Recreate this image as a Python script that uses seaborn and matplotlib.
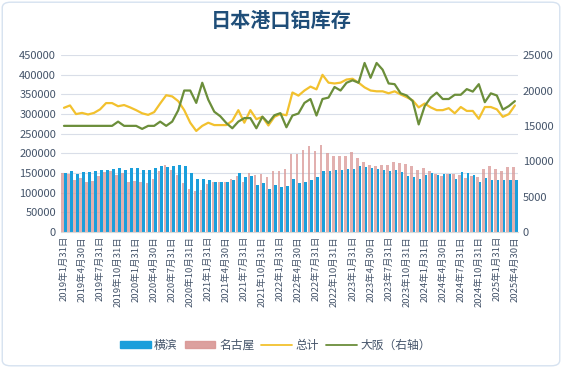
import pandas as pd
import matplotlib
matplotlib.use("Agg")
import matplotlib.pyplot as plt
import seaborn as sns
from matplotlib.lines import Line2D
from matplotlib.patches import Patch, FancyBboxPatch

# month-end dates, Jan 2019 .. Apr 2025
dates = pd.date_range("2019-01-31", "2025-04-30", freq="ME")
date_labels = [f"{d.year}年{d.month}月{d.day}日" for d in dates]

# 横滨 (left axis)
yokohama = [150, 156, 148, 152, 153, 156, 158, 158, 160, 163, 157, 162, 162, 158, 157, 162,
            167, 164, 169, 170, 169, 150, 135,
            134, 131, 127, 126, 127, 131, 151, 139, 141, 120, 124, 110, 120, 114, 117,
            135, 124, 128, 131, 139, 156, 156, 158, 158, 161, 161, 169, 165, 163, 161, 158,
            156, 158, 152,
            143, 139, 135, 146, 151, 146, 148, 148, 135, 153, 150, 146, 127, 138, 133, 131,
            133, 133, 133]
# 名古屋 (left axis)
nagoya = [150, 148, 133, 137, 127, 130, 141, 152, 154, 145, 150, 126, 130, 126, 124, 135,
          154, 170, 157, 144, 124, 110, 103,
          107, 122, 127, 127, 127, 135, 141, 128, 150, 146, 148, 139, 156, 156, 160,
          199, 199, 209, 218, 206, 220, 201, 194, 194, 194, 204, 189, 178, 170, 167, 170,
          170, 177, 175,
          173, 169, 158, 163, 156, 148, 143, 148, 148, 146, 138, 142, 140, 161, 169, 161,
          156, 166, 166]
# 总计 (left axis)
total = [316, 322, 300, 303, 299, 303, 312, 328, 328, 320, 323, 317, 310, 302, 298, 305,
         327, 348, 345, 333, 310, 278, 257, 270, 278, 272, 272, 272, 283, 310, 278, 310,
         287, 293, 271, 293, 300, 297,
         355, 347, 360, 370, 363, 400, 380, 378, 380, 388, 390, 380, 368, 360, 358, 358,
         353, 358, 350, 343, 335, 317, 327, 317, 310, 310, 315, 302, 318, 308, 308, 288,
         318, 318, 312, 293, 300, 322]
# 大阪 (right axis)
osaka = [15000, 15000, 15000, 15000, 15000, 15000, 15000, 15000, 15000, 15600, 15000, 15000,
         15000, 14570, 15000, 15000, 15600, 15000, 15600, 17200, 20000, 20000, 18250, 21100,
         18700, 17000, 16360, 15400, 14660, 15600, 16100, 16100, 14660, 16300, 15400, 16500,
         16800, 14800,
         16460, 16750, 18250, 18800, 16460, 18800, 19000, 20500, 20000, 21100, 21450, 21100,
         23900, 21800, 23900, 22950, 21000, 20900, 19600, 19300, 18500, 15200, 17800, 19000,
         19700, 18800, 18800, 19400, 19400, 20200, 19850, 20900, 18350, 19600, 19300, 17300,
         17800, 18500]

c_blue = "#1A9FDB"
c_pink = "#D99694"
c_yellow = "#F2C12E"
c_green = "#6B8E3A"
c_text = "#44546A"

bars = pd.DataFrame({
    "date": date_labels * 2,
    "series": ["名古屋"] * len(dates) + ["横滨"] * len(dates),
    "value": [v * 1000 for v in nagoya] + [v * 1000 for v in yokohama],
})
lines = pd.DataFrame({"date": date_labels, "total": [v * 1000 for v in total], "osaka": osaka})

sns.set_style("white")
plt.rcParams["font.family"] = ["Noto Sans CJK SC", "DejaVu Sans"]

fig = plt.figure(figsize=(5.62, 3.68), dpi=100)
ax = fig.add_axes([0.1085, 0.37, 0.813, 0.48])
ax2 = ax.twinx()

sns.barplot(data=bars, x="date", y="value", hue="series", hue_order=["名古屋", "横滨"],
            palette={"名古屋": c_pink, "横滨": c_blue}, width=0.88, saturation=1,
            linewidth=0, legend=False, ax=ax, zorder=2)
for p in ax.patches:
    if p.get_facecolor()[0] > 0.7:
        p.set_alpha(0.75)

sns.lineplot(data=lines, x="date", y="total", color=c_yellow, lw=1.6, ax=ax, zorder=3)
sns.lineplot(data=lines, x="date", y="osaka", color=c_green, lw=1.6, ax=ax2, zorder=3)

ax.set_ylim(0, 450000)
ax.set_yticks(range(0, 450001, 50000))
ax2.set_ylim(0, 25000)
ax2.set_yticks(range(0, 25001, 5000))
ax.set_xlim(-0.5, len(dates) - 0.5)
ax.grid(axis="y", color="#D9DEE8", lw=0.8, zorder=0)
ax.set_axisbelow(True)

ax.set_xticks(range(0, len(dates), 3))
ax.set_xticklabels(date_labels[::3], rotation=90, fontsize=6.8, color=c_text)
ax.tick_params(axis="x", length=0, pad=3)
ax.tick_params(axis="y", length=0, labelsize=8, labelcolor=c_text)
ax2.tick_params(axis="y", length=0, labelsize=8, labelcolor=c_text)
for a in (ax, ax2):
    a.set_xlabel("")
    a.set_ylabel("")
    for s in a.spines.values():
        s.set_visible(False)
ax.spines["bottom"].set_visible(True)
ax.spines["bottom"].set_color("#D9D9D9")

fig.text(0.5, 0.945, "日本港口铝库存", ha="center", va="center", fontsize=14.5,
         color="#1F4E79", fontweight="bold")

handles = [Patch(color=c_blue), Patch(color=c_pink, alpha=0.9),
           Line2D([], [], color=c_yellow, lw=1.3), Line2D([], [], color=c_green, lw=1.3)]
fig.legend(handles, ["横滨", "名古屋", "总计", "大阪（右轴）"], loc="center",
           bbox_to_anchor=(0.49, 0.062), ncol=4, frameon=False, fontsize=8.5,
           handlelength=2.6, handleheight=0.6, columnspacing=0.6, handletextpad=0.3,
           labelcolor=c_text)

fig.patches.append(FancyBboxPatch((0.004, 0.006), 0.992, 0.988, boxstyle="round,pad=0,rounding_size=0.015",
                                  transform=fig.transFigure, fill=False, ec="#D6E2F0", lw=1))

fig.savefig("out.png", dpi=100)
